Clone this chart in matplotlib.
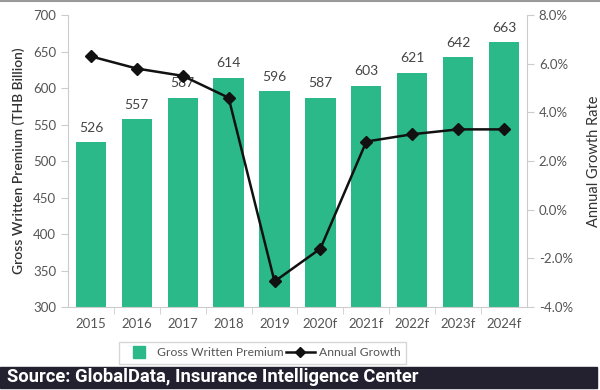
import matplotlib
matplotlib.use("Agg")
import matplotlib.pyplot as plt
from matplotlib.patches import Rectangle
from matplotlib.lines import Line2D
import matplotlib.ticker as mticker

years = ["2015", "2016", "2017", "2018", "2019", "2020f", "2021f", "2022f", "2023f", "2024f"]
premium = [526, 557, 587, 614, 596, 587, 603, 621, 642, 663]
growth = [6.3, 5.8, 5.5, 4.6, -2.95, -1.6, 2.8, 3.1, 3.3, 3.3]

plt.rcParams['font.family'] = ['Lato', 'DejaVu Sans']

bar_color = "#2bb98a"
tick_color = "#555555"
spine_color = "#cccccc"

fig = plt.figure(figsize=(6, 3.9), dpi=100)
ax = fig.add_axes([0.1133, 0.2128, 0.7650, 0.7487])
x = list(range(len(years)))
bars = ax.bar(x, premium, width=0.66, color=bar_color, zorder=2)
for xi, v in zip(x, premium):
    ax.annotate(str(v), (xi, v), xytext=(0, 6), textcoords="offset points",
                ha="center", va="bottom", fontsize=10, color="#444444")
ax.set_ylim(300, 700)
ax.set_xlim(-0.5, len(years) - 0.5)
ax.set_yticks(range(300, 701, 50))
ax.set_xticks(x)
ax.set_xticklabels(years)
ax.set_xticks([i + 0.5 for i in x[:-1]], minor=True)
ax.tick_params(axis="x", which="major", length=0, pad=8, labelsize=9.5, labelcolor=tick_color)
ax.tick_params(axis="x", which="minor", length=5, color=spine_color, direction="out")
ax.tick_params(axis="y", length=5, color=spine_color, labelsize=9.5, labelcolor=tick_color)
for s in ["top", "right"]:
    ax.spines[s].set_visible(False)
for s in ["left", "bottom"]:
    ax.spines[s].set_color(spine_color)
ax.set_ylabel("Gross Written Premium (THB Billion)", fontsize=10, color="#333333",
              fontweight="semibold", labelpad=6)

ax2 = ax.twinx()
ax2.plot(x, growth, color="#111111", lw=1.8, marker="D", markersize=6.5, zorder=3)
ax2.set_ylim(-4, 8)
ax2.set_yticks(range(-4, 9, 2))
ax2.yaxis.set_major_formatter(mticker.FuncFormatter(lambda v, p: f"{v:.1f}%"))
ax2.tick_params(axis="y", length=5, color=spine_color, labelsize=9.5, labelcolor=tick_color)
for s in ["top", "left", "bottom"]:
    ax2.spines[s].set_visible(False)
ax2.spines["right"].set_color(spine_color)
ax2.set_ylabel("Annual Growth Rate", fontsize=10.5, color="#333333", labelpad=10)

handles = [Line2D([0], [0], color=bar_color, lw=0, marker="s", markersize=8),
           Line2D([0], [0], color="#111111", lw=1.8, marker="D", markersize=5)]
leg = fig.legend(handles, ["Gross Written Premium", "Annual Growth"], loc="center",
                 bbox_to_anchor=(0.437, 0.095), ncol=2, frameon=True, fontsize=8.7,
                 fancybox=False, edgecolor="#cccccc", handlelength=2.4, columnspacing=0.2,
                 handletextpad=0.3, borderpad=0.45)
for t in leg.get_texts():
    t.set_color("#555555")

# source band
fig.patches.append(Rectangle((0, 0.005), 0.995, 0.055, transform=fig.transFigure,
                             color="#23212f", zorder=0))
fig.text(0.012, 0.033, "Source: GlobalData, Insurance Intelligence Center", color="white",
         fontsize=13.2, fontweight="bold", va="center", ha="left",
         family=["Roboto", "DejaVu Sans"])
fig.add_artist(Line2D([0, 1], [0.997, 0.997], transform=fig.transFigure, color="#999999", lw=1.5))

fig.savefig("out.png", dpi=100)
